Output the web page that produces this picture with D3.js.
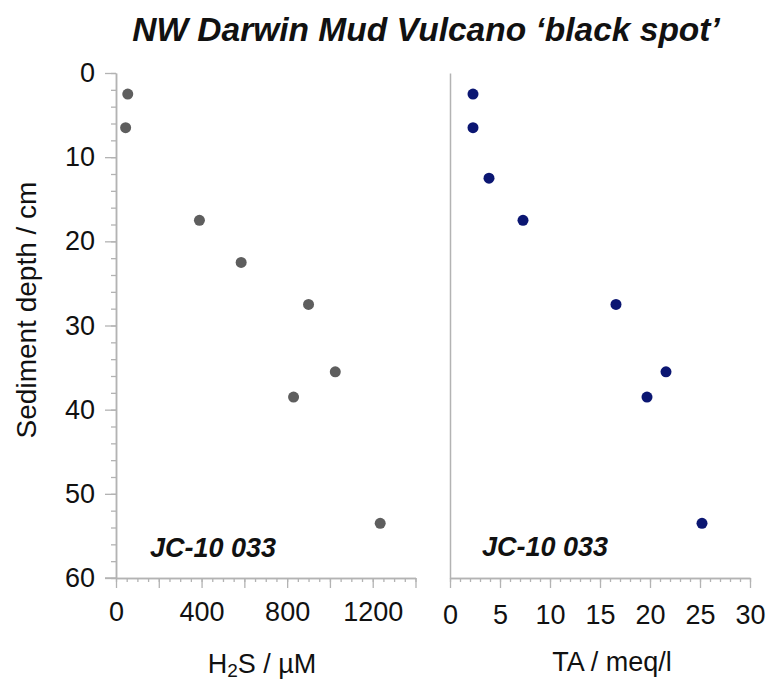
<!DOCTYPE html>
<html>
<head>
<meta charset="utf-8">
<script src="https://cdn.jsdelivr.net/npm/d3@7"></script>
<style>
  body { margin: 0; background: #fff; }
  text { font-family: "Liberation Sans", Arial, sans-serif; fill: #111; }
</style>
</head>
<body>
<script>
// chart values
var h2sDepth = [2.5, 6.5, 17.5, 22.5, 27.5, 35.5, 38.5, 53.5];
var h2sValue = [55, 45, 390, 585, 900, 1025, 830, 1235];
var taDepth = [2.5, 6.5, 12.5, 17.5, 27.5, 35.5, 38.5, 53.5];
var taValue = [2.3, 2.3, 3.9, 7.3, 16.6, 21.6, 19.7, 25.2];
var depthTicks = [0, 10, 20, 30, 40, 50, 60];
var h2sTicks = [0, 400, 800, 1200];
var taTicks = [0, 5, 10, 15, 20, 25, 30];

var width = 770, height = 680;
var plotTop = 73, plotBottom = 578;
var axisColor = "#b3b3b3";

const svg = d3.select("body")
              .append("svg")
              .attr("width", width)
              .attr("height", height);

var y = d3.scaleLinear().domain([0, 60]).range([plotTop, plotBottom]);
var xL = d3.scaleLinear().domain([0, 1400]).range([116, 415.5]);
var xR = d3.scaleLinear().domain([0, 30]).range([450, 750]);

function styleAxis(g) {
  g.select(".domain").attr("stroke", axisColor).attr("stroke-width", 1.5);
  g.selectAll(".tick line").attr("stroke", axisColor).attr("stroke-width", 1.3);
  g.selectAll(".tick text")
   .attr("font-family", "Liberation Sans, Arial, sans-serif")
   .attr("font-size", 27)
   .attr("fill", "#111");
}

// left depth axis: minor ticks, then major ticks with labels
svg.append("g")
   .attr("transform", "translate(116,0)")
   .call(d3.axisLeft(y).tickValues(d3.range(0, 61, 2)).tickSize(5).tickFormat("").tickSizeOuter(0))
   .call(styleAxis);
svg.append("g")
   .attr("transform", "translate(116,0)")
   .call(d3.axisLeft(y).tickValues(depthTicks).tickSize(11).tickPadding(10).tickFormat(d3.format("d")).tickSizeOuter(0))
   .call(styleAxis);

// left H2S axis
svg.append("g")
   .attr("transform", "translate(0," + plotBottom + ")")
   .call(d3.axisBottom(xL).tickValues(d3.range(0, 1401, 50)).tickSize(4).tickFormat("").tickSizeOuter(0))
   .call(styleAxis);
svg.append("g")
   .attr("transform", "translate(0," + plotBottom + ")")
   .call(d3.axisBottom(xL).tickValues(d3.range(0, 1401, 200)).tickSize(10).tickFormat("").tickSizeOuter(0))
   .call(styleAxis);
svg.append("g")
   .attr("transform", "translate(0," + plotBottom + ")")
   .call(d3.axisBottom(xL).tickValues(h2sTicks).tickSize(0).tickPadding(24).tickFormat(d3.format("d")).tickSizeOuter(0))
   .call(styleAxis)
   .call(g => g.select(".domain").remove());
// extend bottom line to the left under the 60 tick
svg.append("line")
   .attr("x1", 105).attr("x2", 116)
   .attr("y1", y(60)).attr("y2", y(60))
   .attr("stroke", axisColor).attr("stroke-width", 1.5);

// right panel: plain depth line, TA axis
svg.append("g")
   .attr("transform", "translate(450,0)")
   .call(d3.axisLeft(y).tickValues([]).tickSizeOuter(0))
   .call(styleAxis);
svg.append("g")
   .attr("transform", "translate(0," + plotBottom + ")")
   .call(d3.axisBottom(xR).tickValues(d3.range(0, 31, 1)).tickSize(4).tickFormat("").tickSizeOuter(0))
   .call(styleAxis);
svg.append("g")
   .attr("transform", "translate(0," + plotBottom + ")")
   .call(d3.axisBottom(xR).tickValues(taTicks).tickSize(10).tickPadding(17).tickFormat(d3.format("d")).tickSizeOuter(0))
   .call(styleAxis);

// points
svg.append("g").selectAll("circle")
   .data(h2sValue)
   .enter().append("circle")
   .attr("cx", d => xL(d))
   .attr("cy", (d, i) => y(h2sDepth[i]))
   .attr("r", 5.5)
   .attr("fill", "#5e5e5e");

svg.append("g").selectAll("circle")
   .data(taValue)
   .enter().append("circle")
   .attr("cx", d => xR(d))
   .attr("cy", (d, i) => y(taDepth[i]))
   .attr("r", 5.5)
   .attr("fill", "#0b1672");

// title and labels
svg.append("text")
   .attr("x", 426).attr("y", 41)
   .attr("text-anchor", "middle")
   .attr("font-size", 33.5)
   .attr("font-weight", "bold")
   .attr("font-style", "italic")
   .text("NW Darwin Mud Vulcano \u2018black spot\u2019");

svg.append("text")
   .attr("transform", "translate(36,310) rotate(-90)")
   .attr("text-anchor", "middle")
   .attr("font-size", 28)
   .text("Sediment depth / cm");

var h2sLabel = svg.append("text")
   .attr("x", 262).attr("y", 673)
   .attr("text-anchor", "middle")
   .attr("font-size", 27);
h2sLabel.append("tspan").text("H");
h2sLabel.append("tspan").attr("font-size", 19).attr("dy", 4).text("2");
h2sLabel.append("tspan").attr("dy", -4).text("S / \u00b5M");

svg.append("text")
   .attr("x", 612).attr("y", 671)
   .attr("text-anchor", "middle")
   .attr("font-size", 27)
   .text("TA / meq/l");

svg.append("text")
   .attr("x", 150).attr("y", 557)
   .attr("font-size", 27)
   .attr("font-weight", "bold")
   .attr("font-style", "italic")
   .text("JC-10 033");

svg.append("text")
   .attr("x", 482).attr("y", 556)
   .attr("font-size", 27)
   .attr("font-weight", "bold")
   .attr("font-style", "italic")
   .text("JC-10 033");
</script>
</body>
</html>
